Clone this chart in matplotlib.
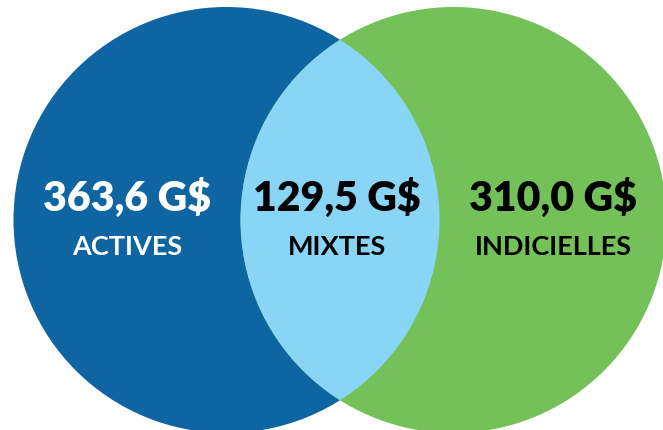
import matplotlib
matplotlib.use("Agg")
import matplotlib.pyplot as plt
from matplotlib.patches import Circle

# valeurs (G$) et catégories
values = [363.6, 129.5, 310.0]
labels = ["ACTIVES", "MIXTES", "INDICIELLES"]

BLUE = "#0E65A2"
GREEN = "#74C059"
LIGHT = "#89D5F6"

fig = plt.figure(figsize=(6.63, 4.31), dpi=100)
ax = fig.add_axes([0, 0, 1, 1])
ax.set_xlim(0, 663)
ax.set_ylim(431, 0)
ax.set_aspect("equal")
ax.axis("off")

r = 213
cy = 221
left = Circle((226.5, cy), r, color=BLUE, lw=0)
right = Circle((453.5, cy), r, color=GREEN, lw=0)
ax.add_patch(left)
ax.add_patch(right)

# zone commune
inter = Circle((226.5, cy), r, color=LIGHT, lw=0)
ax.add_patch(inter)
inter.set_clip_path(right)

def fmt(v):
    return f"{v:.1f}".replace(".", ",") + " G$"

xs = [127.5, 337, 553]
cols = ["white", "black", "black"]
for x, v, lab, c in zip(xs, values, labels, cols):
    ax.text(x, 198, fmt(v), ha="center", va="center", fontsize=29.5,
            fontweight="heavy", family="Lato", color=c)
    ax.text(x, 247, lab, ha="center", va="center", fontsize=19.5,
            fontweight="bold", family="Lato", color=c)

fig.savefig("out.png", dpi=100)
